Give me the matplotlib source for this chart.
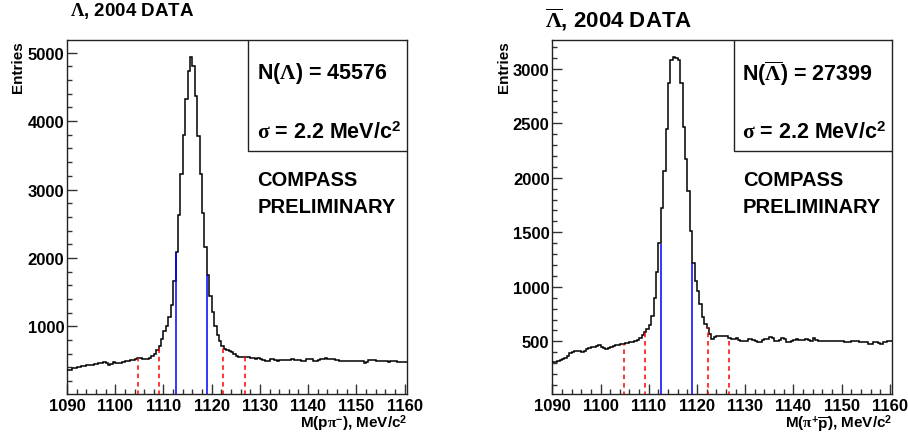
import numpy as np
import matplotlib
matplotlib.use("Agg")
import matplotlib.pyplot as plt
from matplotlib.patches import Rectangle
from matplotlib.ticker import MultipleLocator

plt.rcParams['font.family'] = ['Liberation Sans', 'DejaVu Sans']
plt.rcParams['font.weight'] = 'bold'
plt.rcParams['xtick.labelsize'] = 12
plt.rcParams['ytick.labelsize'] = 12
plt.rcParams['mathtext.fontset'] = 'custom'
plt.rcParams['mathtext.rm'] = 'Liberation Serif'
plt.rcParams['mathtext.bf'] = 'Liberation Sans:bold'
plt.rcParams['mathtext.default'] = 'rm'

# histogram binning: 0.5 MeV bins starting at 1090
bin_lo = 1090.0
bin_w = 0.5

# M(p pi-) entries, one row = 5 MeV
lam_counts = [
    356, 370, 385, 395, 405, 410, 418, 425, 430, 435,
    440, 445, 450, 460, 465, 477, 465, 440, 445, 475,
    470, 465, 470, 485, 490, 495, 505, 512, 520, 532,
    535, 525, 520, 525, 545, 560, 600, 650, 710, 815,
    935, 1010, 1130, 1310, 1670, 2080, 2630, 3230, 3790, 4330,
    4730, 4940, 4800, 4370, 3780, 3220, 2660, 2160, 1750, 1450,
    1210, 1000, 870, 790, 720, 665, 650, 645, 630, 600,
    565, 550, 548, 548, 552, 550, 535, 535, 530, 533,
    530, 510, 498, 500, 520, 520, 515, 490, 510, 515,
    515, 512, 515, 518, 512, 515, 515, 490, 495, 530,
    530, 525, 500, 490, 505, 520, 530, 535, 530, 528,
    520, 515, 515, 495, 490, 488, 495, 500, 500, 498,
    495, 495, 497, 470, 475, 510, 515, 505, 500, 500,
    490, 492, 490, 485, 500, 495, 488, 485, 482, 480,
    475,
]

# M(pi+ pbar) entries
alam_counts = [
    313, 315, 318, 325, 335, 345, 370, 395, 405, 410,
    415, 410, 405, 415, 430, 435, 445, 445, 455, 467,
    450, 440, 430, 440, 445, 455, 467, 470, 476, 480,
    485, 485, 490, 495, 500, 510, 530, 555, 590, 615,
    650, 730, 900, 1140, 1400, 1727, 2062, 2444, 2872, 3079,
    3110, 3100, 3079, 2872, 2469, 2170, 1879, 1513, 1223, 1055,
    958, 842, 720, 658, 619, 567, 521, 540, 546, 546,
    550, 550, 546, 535, 521, 525, 527, 515, 506, 500,
    505, 520, 520, 515, 500, 498, 495, 510, 522, 525,
    538, 530, 505, 505, 515, 527, 520, 492, 490, 500,
    515, 518, 515, 512, 515, 518, 510, 508, 527, 512,
    506, 505, 508, 506, 505, 506, 502, 500, 500, 502,
    500, 498, 496, 495, 505, 506, 503, 496, 490, 492,
    490, 475, 478, 492, 490, 485, 476, 490, 495, 505,
    505,
]

# cut lines (signal window and side bands) and the height they reach
cut_style = ['side', 'side', 'signal', 'signal', 'side', 'side']
lam_cuts = [1104.8, 1109.15, 1112.5, 1119.05, 1122.35, 1126.85]
lam_cut_tops = [535, 712, 2080, 1750, 690, 555]
alam_cuts = [1104.9, 1109.2, 1112.5, 1119.0, 1122.3, 1126.7]
alam_cut_tops = [476, 582, 1391, 1223, 628, 521]

W, H = 908, 439
fig = plt.figure(figsize=(W / 100, H / 100), dpi=100)


def panel(left_px, counts, cuts, tops, ylim, ymaj, ymin_, title, title_xy,
          title_size, ntext, xlab):
    ax = fig.add_axes([left_px / W, (H - 395) / H, 340 / W, 354 / H])
    edges = bin_lo + bin_w * np.arange(len(counts) + 1)
    ax.stairs(counts, edges, baseline=None, color='black', lw=1.1, zorder=3)
    for x, top, kind in zip(cuts, tops, cut_style):
        if kind == 'signal':
            ax.vlines(x, 0, top, color='#0000ff', lw=1.1, zorder=4)
        else:
            ax.vlines(x, 0, top, color='#ff0000', lw=1.1,
                      linestyles=(0, (3, 2.5)), zorder=4)
    ax.set_xlim(1090, 1160.5)
    ax.set_ylim(*ylim)
    ax.xaxis.set_major_locator(MultipleLocator(10))
    ax.xaxis.set_minor_locator(MultipleLocator(2))
    ax.yaxis.set_major_locator(MultipleLocator(ymaj))
    ax.yaxis.set_minor_locator(MultipleLocator(ymin_))
    ax.tick_params(which='both', direction='in', top=False, right=False,
                   width=1, color='#333333')
    ax.tick_params(which='major', length=7)
    ax.tick_params(which='minor', length=3.6)
    ax.tick_params(axis='x', pad=3)
    ax.tick_params(axis='y', pad=2)
    for sp in ax.spines.values():
        sp.set_linewidth(1.0)
        sp.set_color('#222222')

    # stats box in the upper right corner
    ax.add_patch(Rectangle((0.533, 0.687), 0.467, 0.313, transform=ax.transAxes,
                           facecolor='white', edgecolor='#222222', lw=1.0,
                           zorder=5))
    ax.text(0.558, 0.908, ntext, transform=ax.transAxes, fontsize=15.5,
            fontweight='bold', va='center', ha='left', zorder=6)
    ax.text(0.558, 0.739, r'$\sigma$ = 2.2 MeV/c$^{\mathbf{2}}$',
            transform=ax.transAxes, fontsize=15.5, fontweight='bold',
            va='center', ha='left', zorder=6)
    ax.text(0.56, 0.607, 'COMPASS', transform=ax.transAxes, fontsize=14.5,
            fontweight='bold', va='center', ha='left')
    ax.text(0.56, 0.530, 'PRELIMINARY', transform=ax.transAxes, fontsize=14.5,
            fontweight='bold', va='center', ha='left')

    ax.text(1.0, -0.082, xlab, transform=ax.transAxes, fontsize=11,
            fontweight='bold', ha='right', va='center')
    ax.text(-0.143, 1.0, 'Entries', transform=ax.transAxes, fontsize=11,
            fontweight='bold', rotation=90, ha='center', va='top')
    fig.text(title_xy[0] / W, 1 - title_xy[1] / H, title, fontsize=title_size,
             fontweight='bold', ha='left', va='center')
    return ax


panel(67, lam_counts, lam_cuts, lam_cut_tops, (12, 5185), 1000, 200,
      r'$\Lambda$, 2004 DATA', (70, 11), 13.5,
      r'N($\Lambda$) = 45576',
      r'M(p$\pi^{\mathbf{-}}$), MeV/c$^{\mathbf{2}}$')

panel(552.3, alam_counts, alam_cuts, alam_cut_tops, (18, 3262), 500, 100,
      r'$\overline{\Lambda}$, 2004 DATA', (545, 20), 16,
      r'N($\overline{\Lambda}$) = 27399',
      r'M($\pi^{\mathbf{+}}\overline{\mathbf{p}}$), MeV/c$^{\mathbf{2}}$')

fig.savefig('out.png', dpi=100)
